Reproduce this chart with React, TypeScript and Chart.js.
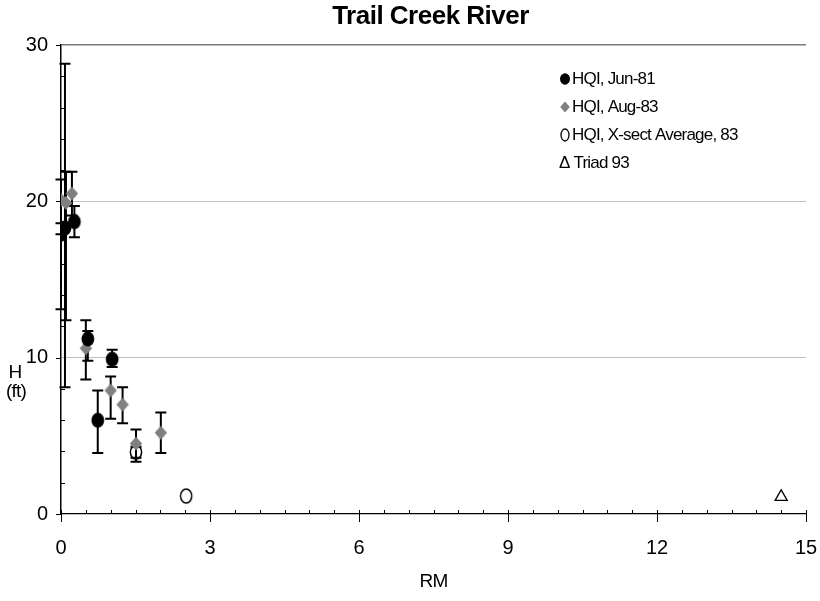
import React, { useEffect, useRef } from "react";
import { Chart, registerables } from "chart.js";

Chart.register(...registerables);

const FONT = "'Liberation Sans', Arial, sans-serif";

const chartTitle = "Trail Creek River";
const xAxisTitle = "RM";
const yAxisTitle = ["H", "(ft)"];
const xTickValues = [0, 3, 6, 9, 12, 15];
const yTickValues = [0, 10, 20, 30];
const seriesNames = ["HQI, Jun-81", "HQI, Aug-83", "HQI, X-sect Average, 83", "Triad 93"];

// HQI, Jun-81
const junX = [0, 0.08, 0.27, 0.54, 0.74, 1.03];
const junY = [17.9, 18.3, 18.7, 11.2, 6.0, 9.9];
const junLo = [13.1, 8.1, 17.7, 9.8, 3.9, 9.4];
const junHi = [17.9, 28.8, 19.7, 11.7, 7.9, 10.5];

// HQI, Aug-83
const augX = [0, 0.1, 0.22, 0.5, 1.0, 1.24, 1.51, 2.01];
const augY = [20.1, 19.9, 20.5, 10.6, 7.9, 7.0, 4.5, 5.2];
const augLo = [18.6, 12.4, 19.1, 8.6, 6.1, 5.8, 3.6, 3.9];
const augHi = [21.4, 21.9, 21.9, 12.4, 8.8, 8.1, 5.4, 6.5];

// HQI, X-sect Average, 83
const xsX = [1.51, 2.52];
const xsY = [3.95, 1.15];
const xsLo = [3.35, null];
const xsHi = [4.3, null];

// Triad 93
const triadX = [14.5];
const triadY = [1.1];

const pts = (xs: number[], ys: number[]) => xs.map((x, i) => ({ x, y: ys[i] }));

function makeMarker(kind: string): HTMLCanvasElement {
  const c = document.createElement("canvas");
  c.width = 18;
  c.height = 20;
  const g = c.getContext("2d")!;
  const cx = 9;
  const cy = 10;
  g.beginPath();
  if (kind === "dot") {
    g.ellipse(cx, cy, 6.4, 7.4, 0, 0, Math.PI * 2);
    g.fillStyle = "#000";
    g.fill();
  } else if (kind === "ring") {
    g.ellipse(cx, cy, 5.6, 7, 0, 0, Math.PI * 2);
    g.strokeStyle = "#000";
    g.lineWidth = 1.5;
    g.stroke();
  } else {
    g.moveTo(cx, cy - 7);
    g.lineTo(cx + 6.2, cy);
    g.lineTo(cx, cy + 7);
    g.lineTo(cx - 6.2, cy);
    g.closePath();
    g.fillStyle = "#808080";
    g.fill();
  }
  return c;
}

const errorBarsPlugin = {
  id: "errorBars",
  beforeDatasetsDraw(chart: any) {
    const { ctx, scales } = chart;
    const x = scales.x;
    const y = scales.y;
    ctx.save();
    ctx.strokeStyle = "#000";
    ctx.lineWidth = 2;
    chart.data.datasets.forEach((ds: any) => {
      if (!ds.lo) return;
      ds.data.forEach((p: any, i: number) => {
        const lo = ds.lo[i];
        const hi = ds.hi[i];
        if (lo == null || hi == null) return;
        const px = x.getPixelForValue(p.x);
        const p1 = y.getPixelForValue(lo);
        const p2 = y.getPixelForValue(hi);
        ctx.beginPath();
        ctx.moveTo(px, p1);
        ctx.lineTo(px, p2);
        ctx.moveTo(px - 5.5, p1);
        ctx.lineTo(px + 5.5, p1);
        ctx.moveTo(px - 5.5, p2);
        ctx.lineTo(px + 5.5, p2);
        ctx.stroke();
      });
    });
    // tick marks
    ctx.strokeStyle = "#000";
    ctx.lineWidth = 1;
    const ax = x.getPixelForValue(0);
    const ay = y.getPixelForValue(0);
    ctx.beginPath();
    for (let v = 0; v <= 15.0001; v += 0.5) {
      const px = Math.round(x.getPixelForValue(v)) + 0.5;
      const major = Math.abs(v / 3 - Math.round(v / 3)) < 1e-6;
      ctx.moveTo(px, ay - 4);
      ctx.lineTo(px, major ? ay + 8 : ay);
    }
    for (let v = 0; v <= 30.0001; v += 2) {
      const py = Math.round(y.getPixelForValue(v)) + 0.5;
      const major = v % 10 === 0;
      if (major) {
        ctx.moveTo(ax - 5, py);
        ctx.lineTo(ax, py);
      } else {
        ctx.moveTo(ax, py);
        ctx.lineTo(ax + 4, py);
      }
    }
    ctx.stroke();
    ctx.restore();
  },
};

const decorPlugin = {
  id: "decor",
  afterDraw(chart: any) {
    const { ctx, chartArea } = chart;
    ctx.save();
    ctx.fillStyle = "#000";
    ctx.textBaseline = "middle";
    // title
    ctx.font = `bold 26px ${FONT}`;
    ctx.textAlign = "center";
    (ctx as any).letterSpacing = "-0.5px";
    ctx.fillText(chartTitle, (chartArea.left + chartArea.right) / 2 - 3, 17);
    // axis titles
    ctx.font = `19px ${FONT}`;
    (ctx as any).letterSpacing = "-0.8px";
    ctx.fillText(xAxisTitle, (chartArea.left + chartArea.right) / 2, 582);
    ctx.fillText(yAxisTitle[0], 15, 373);
    ctx.fillText(yAxisTitle[1], 16, 392);
    // legend
    ctx.font = `17px ${FONT}`;
    const rows = [79, 107, 135, 163];
    const mx = 565;
    ctx.textAlign = "left";
    ctx.beginPath();
    ctx.ellipse(mx, rows[0], 5, 5.8, 0, 0, Math.PI * 2);
    ctx.fillStyle = "#000";
    ctx.fill();
    ctx.beginPath();
    ctx.moveTo(mx, rows[1] - 5.5);
    ctx.lineTo(mx + 4.8, rows[1]);
    ctx.lineTo(mx, rows[1] + 5.5);
    ctx.lineTo(mx - 4.8, rows[1]);
    ctx.closePath();
    ctx.fillStyle = "#808080";
    ctx.fill();
    ctx.beginPath();
    ctx.ellipse(mx, rows[2], 4, 6, 0, 0, Math.PI * 2);
    ctx.strokeStyle = "#000";
    ctx.lineWidth = 1.3;
    ctx.stroke();
    ctx.fillStyle = "#000";
    ctx.fillText(seriesNames[0], 572, rows[0]);
    ctx.fillText(seriesNames[1], 572, rows[1]);
    ctx.fillText(seriesNames[2], 572, rows[2]);
    ctx.fillText("\u0394 " + seriesNames[3], 559, rows[3]);
    ctx.restore();
  },
};

export default function App() {
  const ref = useRef<HTMLCanvasElement | null>(null);
  useEffect(() => {
    document.body.style.margin = "0";
    const canvas = ref.current;
    if (!canvas) return;
    const chart = new Chart(canvas, {
      type: "scatter",
      data: {
        datasets: [
          {
            label: seriesNames[0],
            data: pts(junX, junY),
            lo: junLo,
            hi: junHi,
            pointStyle: makeMarker("dot"),
            pointRadius: 7,
            backgroundColor: "#000",
            borderColor: "#000",
          } as any,
          {
            label: seriesNames[1],
            data: pts(augX, augY),
            lo: augLo,
            hi: augHi,
            pointStyle: makeMarker("diamond"),
            pointRadius: 7,
            backgroundColor: "#808080",
            borderColor: "#808080",
          } as any,
          {
            label: seriesNames[2],
            data: pts(xsX, xsY),
            lo: xsLo,
            hi: xsHi,
            pointStyle: makeMarker("ring"),
            pointRadius: 7,
            backgroundColor: "rgba(255,255,255,0)",
            borderColor: "#000",
          } as any,
          {
            label: seriesNames[3],
            data: pts(triadX, triadY),
            pointStyle: "triangle",
            pointRadius: 7,
            backgroundColor: "rgba(255,255,255,0)",
            borderColor: "#000",
            borderWidth: 1.3,
          } as any,
        ],
      },
      options: {
        responsive: false,
        animation: false,
        layout: { padding: { top: 45, right: 14, left: 0, bottom: 0 } },
        plugins: {
          legend: { display: false },
          tooltip: { enabled: false },
          title: { display: false },
        },
        scales: {
          x: {
            type: "linear",
            min: 0,
            max: 15,
            afterBuildTicks: (s: any) => {
              s.ticks = xTickValues.map((v) => ({ value: v }));
            },
            afterFit: (s: any) => {
              s.height = 87;
            },
            grid: { display: false, drawTicks: false },
            border: { display: true, color: "#000", width: 1.2 },
            ticks: {
              color: "#000",
              font: { family: FONT, size: 20, lineHeight: "64px" },
              padding: 2,
              maxRotation: 0,
            },
          },
          y: {
            type: "linear",
            min: 0,
            max: 30,
            afterBuildTicks: (s: any) => {
              s.ticks = yTickValues.map((v) => ({ value: v }));
            },
            afterFit: (s: any) => {
              s.width = 61;
            },
            grid: {
              drawTicks: false,
              lineWidth: (c: any) => (c.tick && c.tick.value === 30 ? 1.5 : 1),
              color: (c: any) =>
                c.tick && c.tick.value === 30
                  ? "#7a7a7a"
                  : c.tick && c.tick.value === 0
                  ? "rgba(0,0,0,0)"
                  : "#c0c0c0",
            },
            border: { display: true, color: "#000", width: 1.5 },
            ticks: {
              color: "#000",
              font: { family: FONT, size: 20 },
              padding: 13,
            },
          },
        },
      } as any,
      plugins: [errorBarsPlugin, decorPlugin],
    });
    return () => chart.destroy();
  }, []);
  return (
    <div style={{ width: 820, height: 601 }}>
      <canvas ref={ref} width={820} height={601} style={{ display: "block" }} />
    </div>
  );
}
